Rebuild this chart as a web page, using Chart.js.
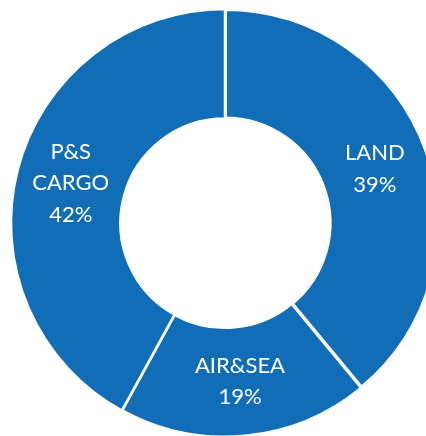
<!DOCTYPE html>
<html>
<head>
<meta charset="utf-8">
<script src="https://cdn.jsdelivr.net/npm/chart.js@4"></script>
<style>
  html, body { margin: 0; padding: 0; background: #fff; overflow: hidden; }
  #wrap { position: absolute; left: 0; top: 0; width: 450px; height: 446px; }
</style>
</head>
<body>
<div id="wrap"><canvas id="shareChart"></canvas></div>
<script>
const segments = ['LAND', 'AIR&SEA', 'P&S CARGO'];
const labelLines = [['LAND'], ['AIR&SEA'], ['P&S', 'CARGO']];
const shares = [39, 19, 42];
const segmentColor = '#116EB6';
const gapWidths = [4, 3, 2.5];

// writes the category name and share inside each slice
const sliceLabels = {
  id: 'sliceLabels',
  afterDatasetsDraw(chart) {
    const ctx = chart.ctx;
    const arcs = chart.getDatasetMeta(0).data;
    ctx.save();
    ctx.font = '22px Lato';
    ctx.fillStyle = '#ffffff';
    ctx.textAlign = 'center';
    ctx.textBaseline = 'middle';
    arcs.forEach((arc, i) => {
      const pos = arc.tooltipPosition();
      const lines = labelLines[i].concat([shares[i] + '%']);
      const lineH = 31.5;
      const top = pos.y - (lines.length - 1) * lineH / 2;
      lines.forEach((t, k) => ctx.fillText(t, pos.x, top + k * lineH));
    });
    ctx.restore();
  }
};

new Chart(document.getElementById('shareChart'), {
  type: 'doughnut',
  data: {
    labels: segments,
    datasets: [{
      data: shares,
      backgroundColor: segmentColor,
      borderColor: '#ffffff',
      borderWidth: gapWidths,
      radius: 214,
      cutout: 108
    }]
  },
  options: {
    responsive: true,
    maintainAspectRatio: false,
    animation: false,
    layout: { padding: 0 },
    plugins: {
      legend: { display: false },
      tooltip: { enabled: false }
    }
  },
  plugins: [sliceLabels]
});
</script>
</body>
</html>
